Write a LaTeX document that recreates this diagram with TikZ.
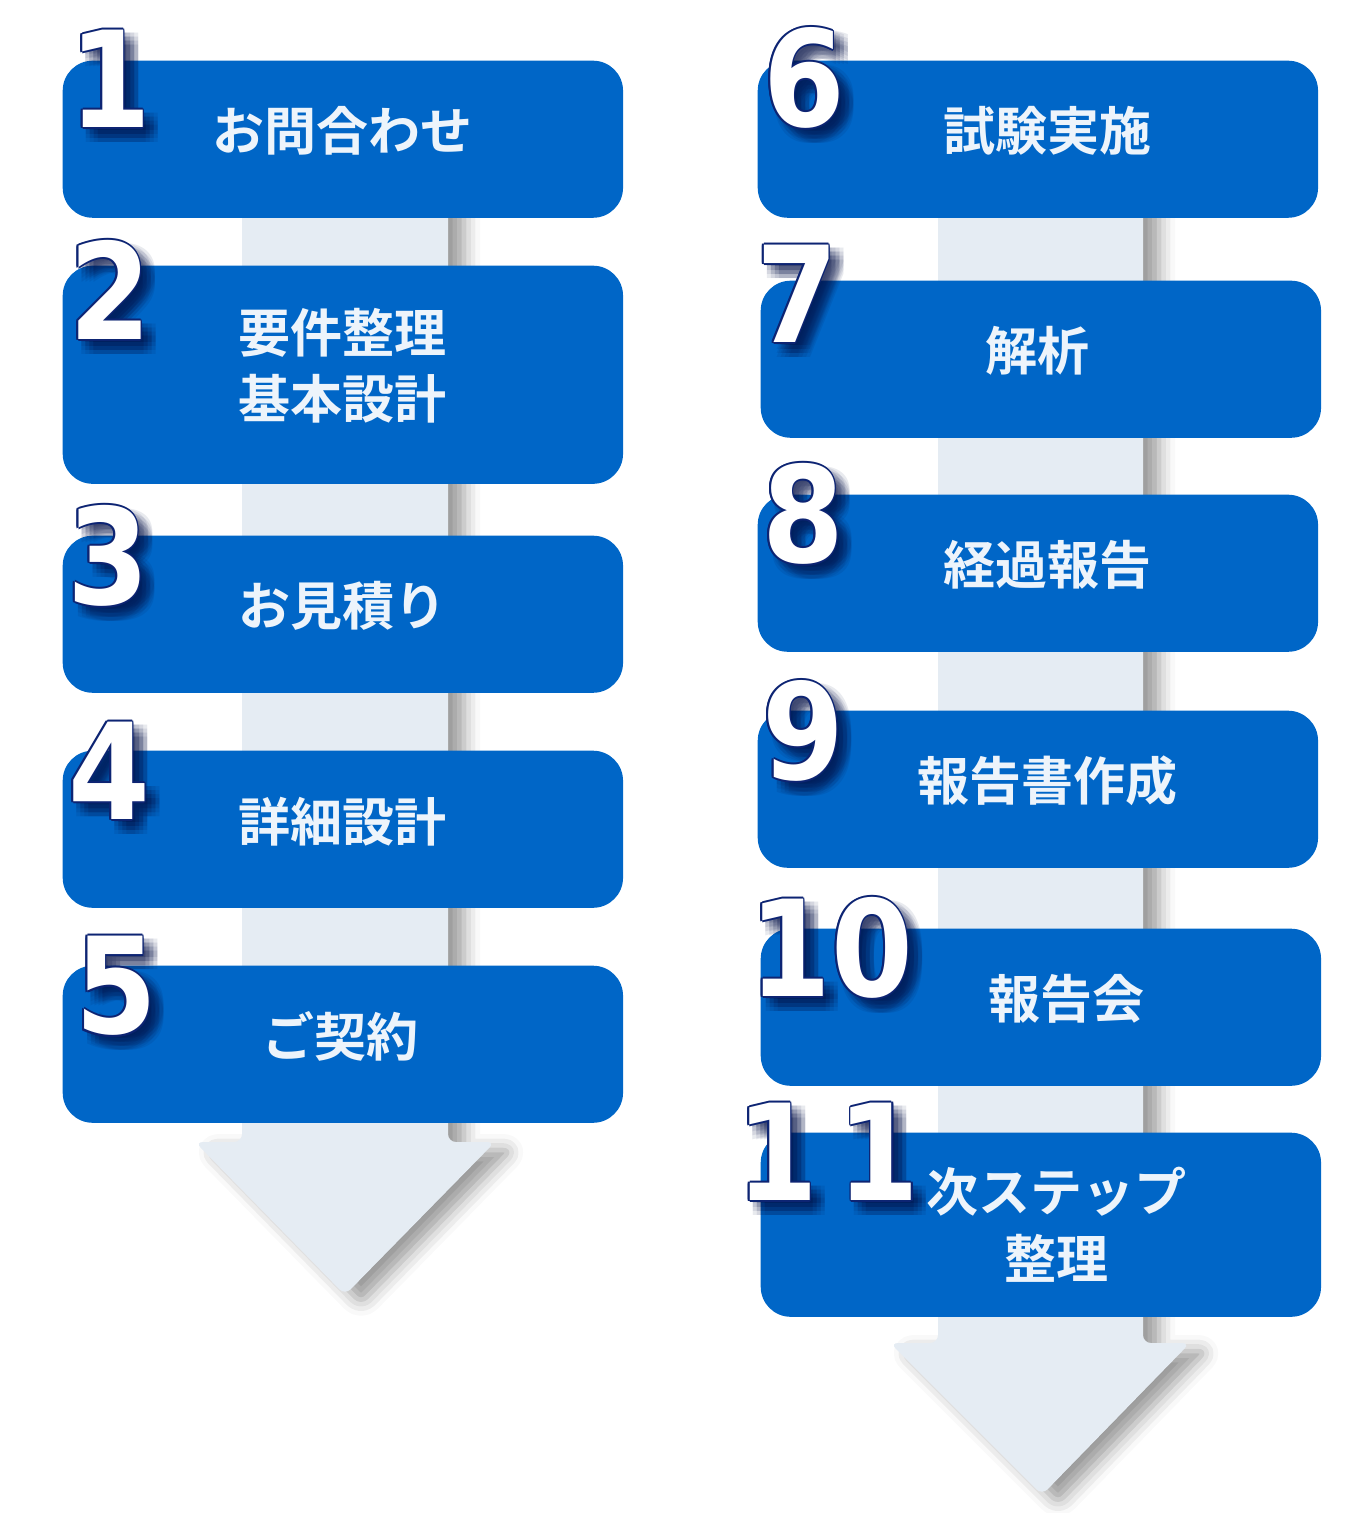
\documentclass[tikz,border=0pt]{standalone}
\usepackage{fontspec}
\newfontfamily\jpfont{Noto Sans CJK JP Bold}
\newfontfamily\numfont{DejaVu Sans Bold}
\usetikzlibrary{calc,shadows.blur}
\definecolor{BoxClr}{rgb}{0,0.4,0.78}
\definecolor{TextClr}{rgb}{0.93,0.955,0.985}
\definecolor{ArrowClr}{rgb}{0.9,0.925,0.953}
\definecolor{EdgeClr}{rgb}{0.05,0.14,0.45}
\definecolor{ShadeClr}{rgb}{0.02,0.07,0.28}

% big step number: name, x, y, digits
\newcommand\StepNo[4]{%
  \foreach \dx in {3,7,11,15}
    \foreach \dy in {3,7,11,15}
      \node[numtext,text=ShadeClr,text opacity=.09] (#1s\dx\dy) at ({#2+\dx},{#3+\dy}) {\scalebox{.88}[1]{#4}};
  \foreach \a in {0,45,...,315}
    \node[numtext,text=EdgeClr] (#1e\a) at ({#2+1.8*cos(\a)},{#3+1.8*sin(\a)}) {\scalebox{.88}[1]{#4}};
  \node[numtext,text=white] (#1) at (#2,#3) {\scalebox{.88}[1]{#4}};
}

\begin{document}
\begin{tikzpicture}[x=0.01cm,y=-0.01cm,
  stepbox/.style={fill=BoxClr,rounded corners=0.3cm,minimum width=5.6cm,
    minimum height=#1,inner sep=0pt,anchor=north west},
  stepbox/.default=1.57cm,
  steptext/.style={text=TextClr,font=\jpfont\fontsize{14.8}{18.8}\selectfont,
    align=center,inner sep=0pt},
  numtext/.style={font=\numfont\fontsize{38}{38}\selectfont,inner sep=0pt},
  arrowbody/.style={fill=ArrowClr,rounded corners=0.08cm,
    blur shadow={shadow xshift=0.16cm,shadow yshift=-0.08cm,
      shadow blur radius=0.16cm,shadow opacity=40}}]
\useasboundingbox (0,0) rectangle (1365,1513);

% the two big arrows
\path[arrowbody] (242,120) -- (448,120) -- (448,1142) -- (495,1142)
  -- (345,1295) -- (195,1142) -- (242,1142) -- cycle;
\path[arrowbody] (938,120) -- (1143,120) -- (1143,1343) -- (1190,1343)
  -- (1042,1495) -- (890,1343) -- (938,1343) -- cycle;

% left column
\node[stepbox] (b1) at (62,60) {};
\node[stepbox=2.18cm] (b2) at (62,265) {};
\node[stepbox] (b3) at (62,535) {};
\node[stepbox] (b4) at (62,750) {};
\node[stepbox] (b5) at (62,965) {};

\node[steptext] (t1) at ($(b1)+(0,-8)$) {お問合わせ};
\node[steptext] (t2) at ($(b2)+(0,-9)$) {要件整理\\基本設計};
\node[steptext] (t3) at ($(b3)+(0,-8)$) {お見積り};
\node[steptext] (t4) at ($(b4)+(0,-8)$) {詳細設計};
\node[steptext] (t5) at ($(b5)+(-2,-8)$) {ご契約};

% right column
\node[stepbox] (b6) at (757,60) {};
\node[stepbox] (b7) at (760,280) {};
\node[stepbox] (b8) at (757,494) {};
\node[stepbox] (b9) at (757,710) {};
\node[stepbox] (b10) at (760,928) {};
\node[stepbox=1.84cm] (b11) at (760,1132) {};

\node[steptext] (t6) at ($(b6)+(10,-8)$) {試験実施};
\node[steptext] (t7) at ($(b7)+(-3,-8)$) {解析};
\node[steptext] (t8) at ($(b8)+(10,-8)$) {経過報告};
\node[steptext] (t9) at ($(b9)+(10,-8)$) {報告書作成};
\node[steptext] (t10) at ($(b10)+(26,-8)$) {報告会};
\node[steptext] (t11) at ($(b11)+(16,0)$) {次ステップ\\整理};

% numbers
\StepNo{n1}{110}{79}{1}
\StepNo{n2}{110}{290}{2}
\StepNo{n3}{108}{556}{3}
\StepNo{n4}{109}{771}{4}
\StepNo{n5}{116}{986}{5}
\StepNo{n6}{804}{78}{6}
\StepNo{n7}{797}{294}{7}
\StepNo{n8}{803}{514}{8}
\StepNo{n9}{803}{731}{9}
\StepNo{n10}{831}{948}{10}
\StepNo{n11}{828}{1152}{1\kern.17em1}
\end{tikzpicture}
\end{document}
